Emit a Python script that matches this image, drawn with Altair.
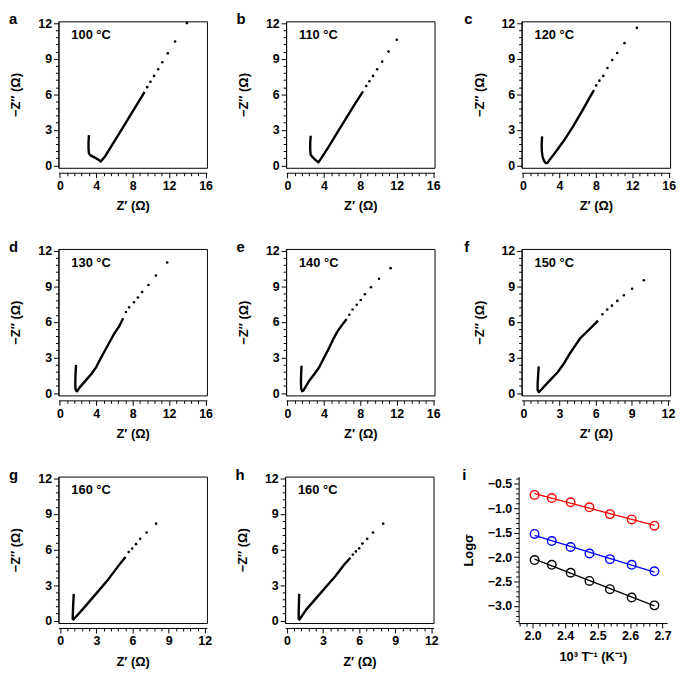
import altair as alt
import pandas as pd

FONT = "Liberation Sans"

# ---------------- data ----------------
# Nyquist plots: dense part (traced as a line) and sparse low-frequency dots
a_line_x = [3.20, 3.15, 3.15, 3.20, 3.40, 3.80, 4.20, 4.50, 5.00, 6.00, 7.00, 8.00, 9.00, 9.30]
a_line_y = [2.55, 2.00, 1.40, 1.00, 0.82, 0.68, 0.50, 0.33, 0.80, 2.05, 3.30, 4.55, 5.80, 6.20]
a_dot_x = [9.60, 9.95, 10.35, 10.80, 11.25, 11.85, 12.65, 13.95]
a_dot_y = [6.60, 7.05, 7.55, 8.10, 8.70, 9.45, 10.45, 12.00]

b_line_x = [2.55, 2.50, 2.50, 2.55, 2.75, 3.10, 3.40, 3.70, 4.50, 5.50, 6.50, 7.50, 8.30]
b_line_y = [2.50, 1.90, 1.30, 0.90, 0.70, 0.45, 0.27, 0.60, 1.55, 2.80, 4.05, 5.30, 6.25]
b_dot_x = [8.65, 9.00, 9.40, 9.85, 10.40, 11.10, 12.00]
b_dot_y = [6.70, 7.10, 7.55, 8.10, 8.75, 9.60, 10.60]

c_line_x = [2.10, 2.05, 2.07, 2.15, 2.30, 2.48, 2.65, 2.90, 3.50, 4.50, 5.50, 6.50, 7.30, 7.80]
c_line_y = [2.45, 1.80, 1.20, 0.75, 0.40, 0.22, 0.19, 0.45, 1.05, 2.10, 3.30, 4.60, 5.70, 6.35]
c_dot_x = [8.04, 8.39, 8.81, 9.27, 9.80, 10.34, 11.15, 12.50]
c_dot_y = [6.75, 7.15, 7.55, 8.22, 8.89, 9.48, 10.31, 11.60]

d_line_x = [1.78, 1.73, 1.70, 1.70, 1.78, 1.90, 2.20, 2.83, 3.50, 4.00, 4.50, 5.00, 5.50, 6.00, 6.50, 6.95]
d_line_y = [2.38, 1.70, 1.00, 0.45, 0.20, 0.15, 0.50, 1.05, 1.65, 2.20, 2.95, 3.65, 4.35, 5.05, 5.60, 6.30]
d_dot_x = [7.26, 7.61, 8.14, 8.57, 9.03, 9.73, 10.55, 11.79]
d_dot_y = [6.83, 7.23, 7.66, 8.06, 8.52, 9.11, 9.91, 11.01]

e_line_x = [1.55, 1.50, 1.48, 1.50, 1.60, 1.75, 2.37, 3.00, 3.50, 4.00, 4.50, 5.00, 5.50, 6.00, 6.50]
e_line_y = [2.30, 1.60, 1.00, 0.40, 0.15, 0.20, 1.02, 1.65, 2.20, 2.95, 3.70, 4.50, 5.20, 5.75, 6.25]
e_dot_x = [6.80, 7.15, 7.61, 8.04, 8.50, 9.17, 10.05, 11.33]
e_dot_y = [6.60, 7.05, 7.45, 7.85, 8.33, 8.92, 9.64, 10.53]

f_line_x = [1.27, 1.22, 1.18, 1.18, 1.28, 1.50, 2.04, 2.84, 3.37, 3.90, 4.30, 4.70, 5.50, 6.20]
f_line_y = [2.25, 1.50, 0.80, 0.25, 0.08, 0.30, 0.90, 1.75, 2.50, 3.40, 4.00, 4.60, 5.40, 6.10]
f_dot_x = [6.56, 6.96, 7.35, 7.80, 8.34, 9.03, 10.00]
f_dot_y = [6.64, 7.05, 7.37, 7.77, 8.25, 8.79, 9.51]

g_line_x = [1.12, 1.08, 1.05, 1.03, 1.10, 2.00, 3.00, 4.00, 5.00, 5.42]
g_line_y = [2.26, 1.50, 0.80, 0.15, 0.10, 1.12, 2.30, 3.50, 4.85, 5.36]
g_dot_x = [5.68, 5.97, 6.29, 6.64, 7.17, 7.96]
g_dot_y = [5.79, 6.08, 6.45, 6.90, 7.43, 8.18]

h_line_x = [1.02, 1.00, 0.98, 0.98, 1.05, 1.60, 2.40, 3.20, 4.00, 4.80, 5.28]
h_line_y = [2.26, 1.50, 0.80, 0.15, 0.10, 0.93, 1.86, 2.79, 3.72, 4.78, 5.31]
h_dot_x = [5.47, 5.73, 6.00, 6.27, 6.67, 7.15, 8.00]
h_dot_y = [5.57, 5.84, 6.10, 6.50, 6.90, 7.43, 8.18]

# Arrhenius panel i
i_x = [2.306, 2.359, 2.417, 2.475, 2.538, 2.605, 2.675]
i_red = [-0.725, -0.791, -0.876, -0.979, -1.119, -1.228, -1.356]
i_blue = [-1.525, -1.671, -1.792, -1.926, -2.041, -2.157, -2.290]
i_black = [-2.060, -2.157, -2.320, -2.488, -2.657, -2.827, -2.988]

# tick positions (major labelled, minor unlabelled)
nyq16_major = [0, 4, 8, 12, 16]
nyq12_major = [0, 3, 6, 9, 12]
i_x_major = [2.3, 2.4, 2.5, 2.6, 2.7]
i_x_labels = ["2.0", "2.4", "2.5", "2.6", "2.7"]
i_y_major = [-3.0, -2.5, -2.0, -1.5, -1.0, -0.5]

panels = [
    ("a", "100 °C", a_line_x, a_line_y, a_dot_x, a_dot_y, 16),
    ("b", "110 °C", b_line_x, b_line_y, b_dot_x, b_dot_y, 16),
    ("c", "120 °C", c_line_x, c_line_y, c_dot_x, c_dot_y, 16),
    ("d", "130 °C", d_line_x, d_line_y, d_dot_x, d_dot_y, 16),
    ("e", "140 °C", e_line_x, e_line_y, e_dot_x, e_dot_y, 16),
    ("f", "150 °C", f_line_x, f_line_y, f_dot_x, f_dot_y, 12),
    ("g", "160 °C", g_line_x, g_line_y, g_dot_x, g_dot_y, 12),
    ("h", "160 °C", h_line_x, h_line_y, h_dot_x, h_dot_y, 12),
]

W, H = 150, 148


def minor_ticks(major, n=4):
    out = []
    for a, b in zip(major[:-1], major[1:]):
        st = (b - a) / (n + 1)
        for k in range(1, n + 1):
            out.append(round(a + k * st, 4))
    return out


def major_axis(vals, title, orient, offset, fmt, title_pad, label_expr=None):
    kw = dict(values=vals, title=title, orient=orient, offset=offset, format=fmt, grid=False,
              labelFlush=False, labelOverlap=False, tickSize=5, titlePadding=title_pad)
    if label_expr:
        kw["labelExpr"] = label_expr
    return alt.Axis(**kw)


def minor_axis(vals, orient, offset):
    return alt.Axis(values=vals, title=None, orient=orient, offset=offset, labels=False,
                    domain=False, grid=False, tickSize=3)


def letter_layer(letter, dx):
    return alt.Chart(pd.DataFrame({"t": [letter]})).mark_text(
        font=FONT, fontSize=15, fontWeight="bold", align="left", baseline="alphabetic", color="black"
    ).encode(x=alt.value(dx), y=alt.value(3), text="t:N")


def nyquist(letter, temp, lx, ly, dx, dy, xmax, letter_dx):
    line_df = pd.DataFrame({"x": lx, "y": ly, "k": list(range(len(lx)))})
    dot_df = pd.DataFrame({"x": dx, "y": dy})
    if xmax == 16:
        xdom, xmaj = [-0.15, 16.15], nyq16_major
    else:
        xdom, xmaj = [-0.15, 12.18], nyq12_major
    xs = alt.Scale(domain=xdom, nice=False, zero=False)
    ys = alt.Scale(domain=[-0.2, 12.15], nice=False, zero=False)
    line = alt.Chart(line_df).mark_line(color="black", strokeWidth=2.4, strokeJoin="round").encode(
        x=alt.X("x:Q", scale=xs, axis=major_axis(xmaj, "Z′ (Ω)", "bottom", 5, ".0f", 8)),
        y=alt.Y("y:Q", scale=ys, axis=major_axis(nyq12_major, "−Z″ (Ω)", "left", 0, ".0f", 15)),
        order="k:Q")
    dots = alt.Chart(dot_df).mark_circle(color="black", size=7, opacity=1).encode(
        x=alt.X("x:Q", scale=xs, axis=minor_axis(minor_ticks(xmaj), "bottom", 5)),
        y=alt.Y("y:Q", scale=ys, axis=minor_axis(minor_ticks(nyq12_major), "left", 0)))
    temp_t = alt.Chart(pd.DataFrame({"t": [temp]})).mark_text(
        font=FONT, fontSize=13, fontWeight="bold", align="left", baseline="alphabetic", color="black"
    ).encode(x=alt.value(13), y=alt.value(18), text="t:N")
    return alt.layer(line, dots, temp_t, letter_layer(letter, letter_dx)).resolve_axis(
        x="independent", y="independent").properties(width=W, height=H)


charts = []
for idx, p in enumerate(panels):
    col = idx % 3
    charts.append(nyquist(*p, letter_dx=(-58 if col == 2 else -50)))

# panel i
series = ["red", "blue", "black"]
rows = []
for s, ys_ in zip(series, [i_red, i_blue, i_black]):
    for xv, yv in zip(i_x, ys_):
        rows.append({"x": xv, "y": yv, "s": s})
i_df = pd.DataFrame(rows)

label_map = " : ".join(f"datum.value < {v + 0.05:.2f} ? '{t}'" for v, t in zip(i_x_major[:-1], i_x_labels[:-1]))
ix_expr = f"{label_map} : '{i_x_labels[-1]}'"
ix_minor = minor_ticks([2.2] + i_x_major)
ix_minor = [v for v in ix_minor if v >= 2.257]
iy_minor = minor_ticks([-3.5] + i_y_major + [0.0])
iy_minor = [v for v in iy_minor if -3.35 <= v <= -0.35]

color = alt.Color("s:N", scale=alt.Scale(domain=series, range=["#ff0000", "#0000ff", "#000000"]), legend=None)
ixs = alt.Scale(domain=[2.257, 2.714], nice=False, zero=False)
iys = alt.Scale(domain=[-3.35, -0.35], nice=False, zero=False)
i_lines = alt.Chart(i_df).transform_regression("x", "y", groupby=["s"]).mark_line(strokeWidth=1.3).encode(
    x=alt.X("x:Q", scale=ixs, axis=major_axis(i_x_major, "10³ T⁻¹ (K⁻¹)", "bottom", 0, ".1f", 8, ix_expr)),
    y=alt.Y("y:Q", scale=iys, axis=major_axis(i_y_major, "Logσ", "left", 0, ".1f", 12)),
    color=color)
i_pts = alt.Chart(i_df).mark_point(shape="circle", filled=False, size=75, strokeWidth=1.4, opacity=1).encode(
    x=alt.X("x:Q", scale=ixs, axis=minor_axis(ix_minor, "bottom", 0)),
    y=alt.Y("y:Q", scale=iys, axis=minor_axis(iy_minor, "left", 0)),
    color=color)
chart_i = alt.layer(i_lines, i_pts, letter_layer("i", -57)).resolve_axis(
    x="independent", y="independent").properties(
    width=W, height=H, view=alt.ViewBackground(stroke="transparent"))
charts.append(chart_i)

row1 = alt.hconcat(charts[0], charts[1], charts[2], spacing=22)
row2 = alt.hconcat(charts[3], charts[4], charts[5], spacing=22)
row3 = alt.hconcat(charts[6], charts[7], charts[8], spacing=22)

chart = alt.vconcat(row1, row2, row3, spacing=26).properties(padding=0).configure_view(
    stroke="black", strokeWidth=1
).configure_axis(
    labelFont=FONT, labelFontSize=12.5, labelFontWeight="bold", labelColor="black", labelPadding=2,
    titleFont=FONT, titleFontSize=13, titleFontWeight="bold", titleColor="black",
    domainColor="black", tickColor="black", domainWidth=1, tickWidth=1,
)

chart.save("out.html", embed_options={"renderer": "svg", "actions": False})
